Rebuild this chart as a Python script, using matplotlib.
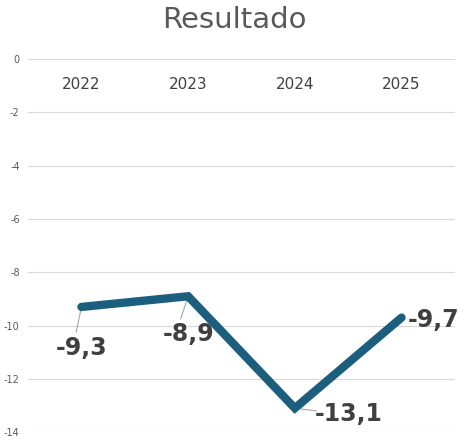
import matplotlib.pyplot as plt
from matplotlib import font_manager

years = ['2022', '2023', '2024', '2025']
values = [-9.3, -8.9, -13.1, -9.7]
labels = ['-9,3', '-8,9', '-13,1', '-9,7']
# label offsets in data units (dx, dy)
label_pos = [(0.0, -1.55), (0.0, -1.4), (0.5, -0.2), (0.3, -0.1)]

names = {f.name for f in font_manager.fontManager.ttflist}
lab_font = 'Liberation Sans Narrow' if 'Liberation Sans Narrow' in names else 'DejaVu Sans'

fig = plt.figure(figsize=(4.68, 4.41), dpi=100)
ax = fig.add_axes([0.06, 0.02, 0.912, 0.846])
x = range(len(years))
ax.plot(x, values, color='#1b5e7e', lw=6, solid_capstyle='round', solid_joinstyle='miter', zorder=3)

leaders = [(-0.05, -0.95), (-0.07, -0.85), (0.2, -0.1), None]
for i, (v, lab) in enumerate(zip(values, labels)):
    dx, dy = label_pos[i]
    ax.text(i + dx, v + dy, lab, ha='center', va='center', fontsize=17,
            fontweight='bold', color='#404040', family=lab_font)
    if leaders[i]:
        lx, ly = leaders[i]
        ax.plot([i, i + lx], [v, v + ly], color='#a6a6a6', lw=0.8, zorder=2)

for i, y in enumerate(years):
    ax.text(i, -0.95, y, ha='center', va='center', fontsize=11, color='#404040')

ax.set_xlim(-0.5, 3.5)
ax.set_ylim(-14, 0)
ax.set_yticks(range(-14, 1, 2))
ax.set_yticklabels([str(t) for t in range(-14, 1, 2)], fontsize=7, color='#595959')
ax.set_xticks([])
ax.grid(axis='y', color='#d9d9d9', lw=0.8)
ax.tick_params(axis='y', length=0, pad=6)
for s in ax.spines.values():
    s.set_visible(False)
fig.text(0.5, 0.955, 'Resultado', ha='center', va='center', fontsize=21, color='#595959')
fig.savefig('out.png', dpi=100)
